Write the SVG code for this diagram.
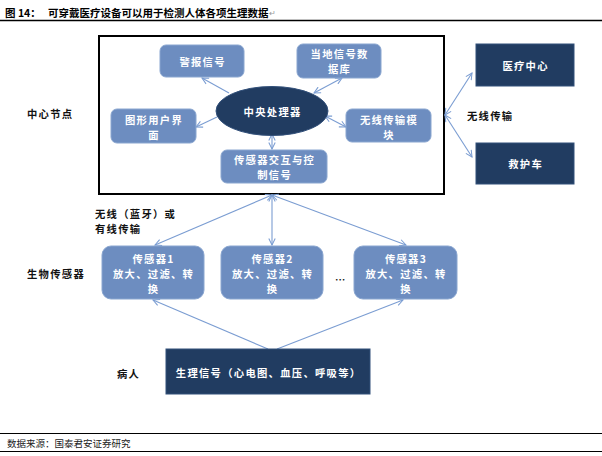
<svg xmlns="http://www.w3.org/2000/svg" width="602" height="456" viewBox="0 0 602 456">
<style>
text{font-family:"Noto Sans CJK SC","Noto Sans CJK JP",sans-serif;dominant-baseline:central}
.t{font-size:10.5px;font-weight:bold;fill:#000}
.lbl{font-size:10.3px;letter-spacing:1.3px;font-weight:bold;fill:#111}
.w{font-size:10.3px;letter-spacing:1.3px;font-weight:bold;fill:#fff;text-anchor:middle}
.mb{fill:#6d8dc0;stroke:#8aa6d0;stroke-width:1}
.db{fill:#213c61;stroke:#32507a;stroke-width:1}
.c{stroke:#7b9dd2;stroke-width:1.1;fill:none}
</style>
<defs>
<marker id="ah" viewBox="0 0 10 10" refX="9" refY="5" markerWidth="8" markerHeight="8" markerUnits="userSpaceOnUse" orient="auto-start-reverse">
<path d="M1,1 L9,5 L1,9" fill="none" stroke="#7b9dd2" stroke-width="1.3"/>
</marker>
</defs>
<rect width="602" height="456" fill="#fff"/>
<g id="title">
<text class="t" x="5" y="12">图 14：</text>
<text class="t" x="48" y="12">可穿戴医疗设备可以用于检测人体各项生理数据<tspan font-weight="normal" fill="#999" font-size="8">↵</tspan></text>
<line x1="0" y1="20.5" x2="602" y2="20.5" stroke="#000" stroke-width="1.4"/>
</g>
<g id="center-frame"><rect x="99" y="36" width="345" height="158" fill="none" stroke="#000" stroke-width="2"/></g>
<g id="connectors">
<line class="c" x1="229" y1="93" x2="202" y2="78" marker-end="url(#ah)"/>
<line class="c" x1="314" y1="93" x2="342" y2="78" marker-start="url(#ah)" marker-end="url(#ah)"/>
<line class="c" x1="217" y1="117" x2="196" y2="127" marker-end="url(#ah)"/>
<line class="c" x1="325" y1="116" x2="346" y2="127" marker-start="url(#ah)" marker-end="url(#ah)"/>
<line class="c" x1="272" y1="134" x2="272" y2="149" marker-start="url(#ah)" marker-end="url(#ah)"/>
<line class="c" x1="445" y1="115" x2="472" y2="73" marker-start="url(#ah)" marker-end="url(#ah)"/>
<line class="c" x1="445" y1="115" x2="472" y2="157" marker-start="url(#ah)" marker-end="url(#ah)"/>
<line class="c" x1="272" y1="195" x2="155" y2="245" marker-start="url(#ah)" marker-end="url(#ah)"/>
<line class="c" x1="272" y1="195" x2="272" y2="245" marker-start="url(#ah)" marker-end="url(#ah)"/>
<line class="c" x1="272" y1="195" x2="406" y2="245" marker-start="url(#ah)" marker-end="url(#ah)"/>
<line class="c" x1="268" y1="349" x2="153" y2="300" marker-end="url(#ah)"/>
<line class="c" x1="277" y1="349" x2="403" y2="300" marker-end="url(#ah)"/>
</g>
<g id="alarm"><rect class="mb" x="160" y="45" width="84" height="32" rx="6"/><text class="w" x="202.6" y="61">警报信号</text></g>
<g id="localdb"><rect class="mb" x="297" y="44" width="84" height="34" rx="6"/><text class="w" x="339.6" y="53.5">当地信号数</text><text class="w" x="339.6" y="68.5">据库</text></g>
<g id="cpu"><ellipse class="db" cx="272" cy="111" rx="56" ry="24.5"/><text class="w" x="272.6" y="111">中央处理器</text></g>
<g id="gui"><rect class="mb" x="111" y="109" width="85" height="34" rx="6"/><text class="w" x="154" y="119.5">图形用户界</text><text class="w" x="154" y="134.5">面</text></g>
<g id="wireless"><rect class="mb" x="346" y="109" width="85" height="33" rx="6"/><text class="w" x="389" y="119">无线传输模</text><text class="w" x="389" y="134">块</text></g>
<g id="sensorio"><rect class="mb" x="221" y="150" width="106" height="33" rx="6"/><text class="w" x="274.6" y="159">传感器交互与控</text><text class="w" x="274.6" y="174">制信号</text></g>
<g id="medcenter"><rect class="db" x="476" y="44" width="98" height="42"/><text class="w" x="525.6" y="65">医疗中心</text></g>
<g id="ambulance"><rect class="db" x="476" y="143" width="98" height="41"/><text class="w" x="525.6" y="163.5">救护车</text></g>
<g id="sensor1"><rect class="mb" x="102" y="246" width="102" height="53" rx="9"/><text class="w" x="153.6" y="258">传感器1</text><text class="w" x="153.6" y="273">放大、过滤、转</text><text class="w" x="153.6" y="288">换</text></g>
<g id="sensor2"><rect class="mb" x="221" y="246" width="102" height="53" rx="9"/><text class="w" x="272.6" y="258">传感器2</text><text class="w" x="272.6" y="273">放大、过滤、转</text><text class="w" x="272.6" y="288">换</text></g>
<g id="sensor3"><rect class="mb" x="354" y="246" width="103" height="53" rx="9"/><text class="w" x="406" y="258">传感器3</text><text class="w" x="406" y="273">放大、过滤、转</text><text class="w" x="406" y="288">换</text></g>
<g id="patient"><rect class="db" x="166" y="349" width="204" height="45"/><text class="w" x="268.6" y="372">生理信号（心电图、血压、呼吸等）</text></g>
<g id="labels">
<text class="lbl" x="27" y="113">中心节点</text>
<text class="lbl" x="467" y="115">无线传输</text>
<text class="lbl" x="95" y="213">无线（蓝牙）或</text>
<text class="lbl" x="95" y="228">有线传输</text>
<text class="lbl" x="27" y="273">生物传感器</text>
<text class="lbl" x="335" y="279">…</text>
<text class="lbl" x="117" y="373">病人</text>
</g>
<g id="footer">
<line x1="0" y1="433.5" x2="602" y2="433.5" stroke="#000" stroke-width="1"/>
<text x="7" y="443" font-size="9.5" fill="#222">数据来源：国泰君安证券研究</text>
<line x1="0" y1="451.5" x2="602" y2="451.5" stroke="#000" stroke-width="1"/>
</g>
</svg>
